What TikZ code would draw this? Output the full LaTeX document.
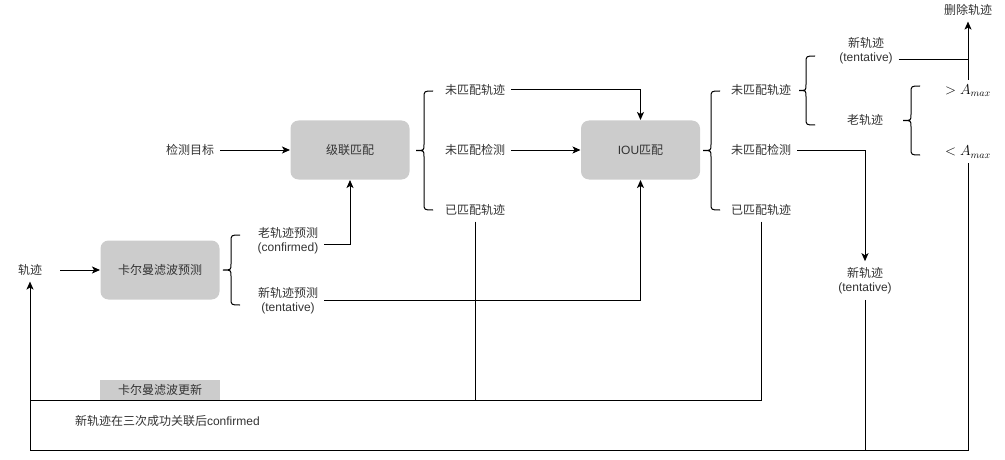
\documentclass[tikz,border=0pt]{standalone}
\usepackage{fontspec}
\setmainfont{Liberation Sans}
\newfontfamily\cjk{Noto Sans CJK SC}
\usetikzlibrary{arrows.meta}
\definecolor{boxgray}{HTML}{CCCCCC}
\definecolor{txtgray}{HTML}{333333}
\newcommand\drawbrace[4]{%
  \pgfmathsetmacro\bmid{(#2+#3)/2}%
  \draw ({#1+9},#2) .. controls (#1,#2) .. (#1,{#2+7}) -- (#1,{\bmid-6}) .. controls (#1,\bmid) .. (#4,\bmid) .. controls (#1,\bmid) .. (#1,{\bmid+6}) -- (#1,{#3-7}) .. controls (#1,#3) .. ({#1+9},#3);%
}
\begin{document}
\begin{tikzpicture}[x=1pt,y=-1pt,line width=1pt,
  txt/.style={font=\fontsize{12}{14}\selectfont, text=txtgray, inner sep=1pt, outer sep=5pt, align=center},
  procbox/.style={fill=boxgray, rounded corners=8pt, minimum width=119pt, minimum height=59pt, inner sep=0pt, text=txtgray, font=\fontsize{12}{14}\selectfont},
  arr/.style={-{Stealth[length=8pt,width=7pt,inset=2pt]}},
  mathtxt/.style={font=\fontsize{14}{16}\selectfont, inner sep=1pt, outer sep=4pt}]
\useasboundingbox (0,0) rectangle (1005,460);

% nodes
\node[txt] (track) at (30,270) {\cjk 轨迹};
\node[procbox] (kfp) at (160,270) {\cjk 卡尔曼滤波预测};
\node[txt] (det) at (190,150) {\cjk 检测目标};
\node[procbox] (casc) at (350,150) {\cjk 级联匹配};
\node[txt] (old) at (288,240.5) {{\cjk 老轨迹预测}\\(confirmed)};
\node[txt] (newp) at (288,300.5) {{\cjk 新轨迹预测}\\(tentative)};
\node[txt] (u1) at (475,90) {\cjk 未匹配轨迹};
\node[txt] (u2) at (475,150) {\cjk 未匹配检测};
\node[txt] (m1) at (475,210) {\cjk 已匹配轨迹};
\node[procbox] (iou) at (640.5,150) {IOU{\cjk 匹配}};
\node[txt] (iu1) at (761,90) {\cjk 未匹配轨迹};
\node[txt] (iu2) at (761,150) {\cjk 未匹配检测};
\node[txt] (im1) at (761,210) {\cjk 已匹配轨迹};
\node[txt] (nt2) at (866,51) {{\cjk 新轨迹}\\(tentative)};
\node[txt] (old2) at (865,120) {\cjk 老轨迹};
\node[mathtxt] (gt) at (968,91) {$>A_{max}$};
\node[mathtxt] (lt) at (968,152) {$<A_{max}$};
\node[txt] (del) at (968,10) {\cjk 删除轨迹};
\node[txt] (newt) at (865,280.5) {{\cjk 新轨迹}\\(tentative)};
\node[fill=boxgray, minimum width=120pt, minimum height=20pt, inner sep=0pt, text=txtgray, font=\fontsize{12}{14}\selectfont] (kfu) at (160,390) {\cjk 卡尔曼滤波更新};
\node[txt, anchor=west] (note) at (69,421) {{\cjk 新轨迹在三次成功关联后}confirmed};

\coordinate (j1) at (30,400);
\coordinate (j2) at (30,450);

% braces
\drawbrace{231}{235}{305}{223}
\drawbrace{424}{91}{210}{416}
\drawbrace{711}{91}{210}{703}
\drawbrace{806}{56}{125}{799}
\drawbrace{911}{86}{155}{903}

% connectors
\draw[arr] ([xshift=12pt]track.east) -- (kfp.west);
\draw[arr] (det.east) -- (casc.west);
\draw[arr] ([yshift=-3.5pt]old.east) -| (casc.south);
\draw[arr] (newp.east) -| (iou.south);
\draw[arr] (u1.east) -| (iou.north);
\draw[arr] (u2.east) -- (iou.west);
\draw (m1.south) -- (m1.south |- j1);
\draw (im1.south) |- (j1);
\draw[arr] (iu2.east) -| (newt.north);
\draw (newt.south) -- (newt.south |- j2);
\draw[arr] (lt.south) |- (j2) -- (track.south);
\draw[arr] (gt.north) -- (del.south);
\draw ([yshift=-9pt]nt2.east) -- ([yshift=-9pt]nt2.east -| gt.north);
\end{tikzpicture}
\end{document}
